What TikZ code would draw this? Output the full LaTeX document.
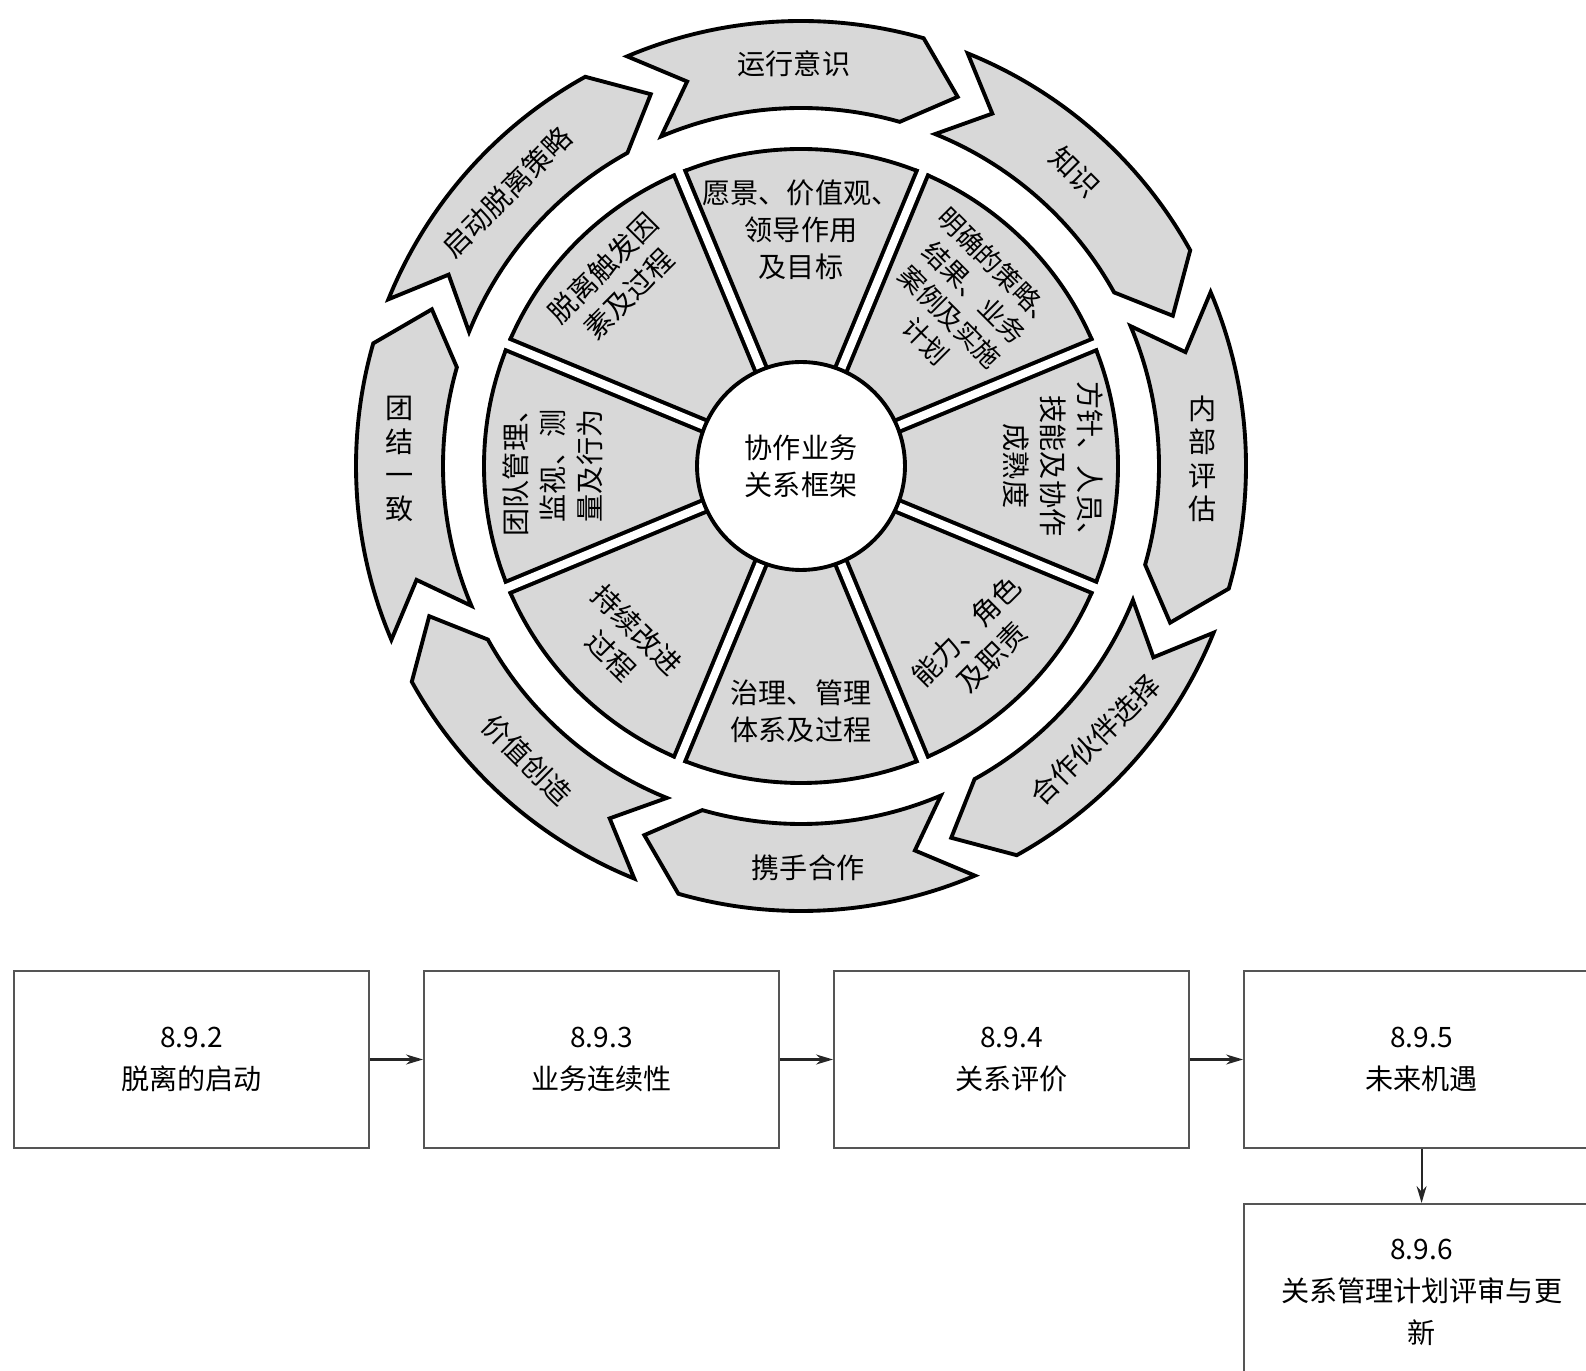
\documentclass[tikz,border=0pt]{standalone}
\usepackage{fontspec}
\setmainfont{Noto Sans CJK SC}
\usetikzlibrary{arrows.meta,positioning}

\definecolor{wheelgray}{RGB}{216,216,216}
\definecolor{boxline}{RGB}{85,85,85}

\tikzset{
  rim/.style={draw=black,line width=2.2pt,fill=wheelgray,line join=miter},
  wheeltext/.style={align=center,inner sep=0pt,font=\fontsize{16pt}{21pt}\selectfont},
  stacktext/.style={wheeltext,font=\fontsize{16pt}{19pt}\selectfont},
  flowbox/.style={draw=boxline,line width=1.2pt,fill=white,minimum width=7.1cm,
    minimum height=3.54cm,align=center,font=\fontsize{16pt}{24pt}\selectfont},
  flowarrow/.style={-{Stealth[length=0.34cm,width=0.2cm]},line width=1.2pt,draw=black!85}
}

\begin{document}
\begin{tikzpicture}[x=0.02cm,y=0.02cm]
  \fill[white] (0,0) rectangle (1586,1370);
  \useasboundingbox (0,0) rectangle (1586,1370);

  \begin{scope}[shift={(801,904)}]
    % Outer arrows, running clockwise
    \foreach \a in {90,45,0,-45,-90,-135,180,135} {
      \draw[rim] (\a+23:445) arc[start angle=\a+23,end angle=\a-16,radius=445]
        -- (\a-23:401) -- (\a-16:358)
        arc[start angle=\a-16,end angle=\a+23,radius=358]
        -- (\a+16.5:401) -- cycle;
    }

    % Inner ring of sectors
    \fill[wheelgray] (0,0) circle (317);
    \draw[line width=2.2pt] (0,0) circle (317);
    \foreach \d in {22.5,67.5,...,337.5} {
      \draw[line width=9.1pt] (\d:100) -- (\d:319);
      \draw[white,line width=4.5pt] (\d:100) -- (\d:332);
    }

    % Hub
    \node[circle,draw,line width=2.2pt,fill=white,minimum size=4.16cm,inner sep=0pt,
      align=center,font=\fontsize{16pt}{21pt}\selectfont] (hub) at (0,0) {协作业务\\关系框架};

    % Sector labels
    \node[wheeltext] (s1) at (90:236) {愿景、价值观、\\领导作用\\及目标};
    \node[wheeltext,rotate=-45,font=\fontsize{15pt}{19.5pt}\selectfont] (s2) at (45:228) {明确的策略、\\结果、业务\\案例及实施\\计划};
    \node[wheeltext,rotate=-90] (s3) at (0:252) {方针、人员、\\技能及协作\\成熟度};
    \node[wheeltext,rotate=45] (s4) at (-45:252) {能力、角色\\及职责};
    \node[wheeltext] (s5) at (-90:245) {治理、管理\\体系及过程};
    \node[wheeltext,rotate=-45] (s6) at (-135:250) {持续改进\\过程};
    \node[wheeltext,rotate=90] (s7) at (180:248) {团队管理、\\监视、测\\量及行为};
    \node[wheeltext,rotate=45] (s8) at (135:262) {脱离触发因\\素及过程};

    % Arrow labels
    \node[wheeltext] (a1) at (91:402) {运行意识};
    \node[wheeltext,rotate=-45] (a2) at (47:402) {知识};
    \node[stacktext] (a3) at (1:402) {内\\部\\评\\估};
    \node[wheeltext,rotate=45] (a4) at (-43:402) {合作伙伴选择};
    \node[wheeltext] (a5) at (-89:402) {携手合作};
    \node[wheeltext,rotate=-45] (a6) at (-133:402) {价值创造};
    \node[stacktext] (a7) at (179:402) {团\\结\\一\\致};
    \node[wheeltext,rotate=45] (a8) at (137:402) {启动脱离策略};
  \end{scope}

  % Flow of steps
  \node[flowbox] (b892) at (191.5,310.5) {8.9.2\\脱离的启动};
  \node[flowbox,right=1.06cm of b892] (b893) {8.9.3\\业务连续性};
  \node[flowbox,right=1.06cm of b893] (b894) {8.9.4\\关系评价};
  \node[flowbox,right=1.06cm of b894] (b895) {8.9.5\\未来机遇};
  \node[flowbox,below=1.08cm of b895] (b896) {8.9.6\\关系管理计划评审与更\\新};

  \draw[flowarrow] (b892) -- (b893);
  \draw[flowarrow] (b893) -- (b894);
  \draw[flowarrow] (b894) -- (b895);
  \draw[flowarrow] (b895) -- (b896);
\end{tikzpicture}
\end{document}
